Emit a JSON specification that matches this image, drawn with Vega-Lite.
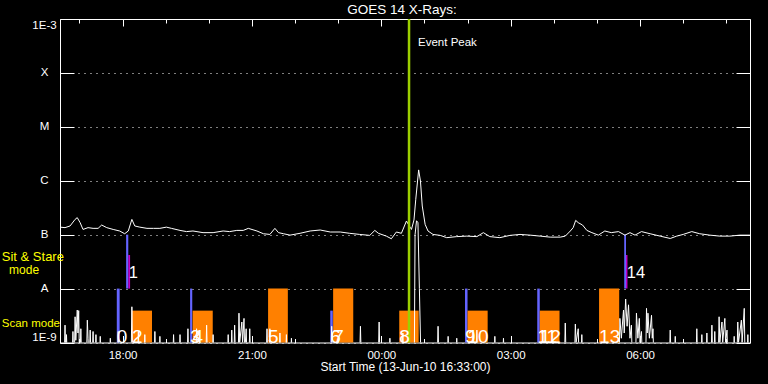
{
  "$schema": "https://vega.github.io/schema/vega-lite/v6.json",
  "width": 690,
  "height": 323.5,
  "autosize": {"type": "none"},
  "padding": {"left": 60, "top": 19, "right": 18, "bottom": 41.5},
  "background": "black",
  "config": {"view": {"stroke": "white", "strokeWidth": 1}},
  "resolve": {"axis": {"x": "independent", "y": "independent"}},
  "datasets": {
    "goes": [
      {"time": "2010-06-13T16:33", "flux": 1.38e-7}, {"time": "2010-06-13T16:40", "flux": 1.35e-7}, {"time": "2010-06-13T16:47", "flux": 1.45e-7}, {"time": "2010-06-13T16:54", "flux": 1.92e-7}, {"time": "2010-06-13T16:57", "flux": 2.07e-7}, {"time": "2010-06-13T17:01", "flux": 1.67e-7}, {"time": "2010-06-13T17:05", "flux": 1.25e-7}, {"time": "2010-06-13T17:12", "flux": 1.35e-7}, {"time": "2010-06-13T17:19", "flux": 1.31e-7}, {"time": "2010-06-13T17:26", "flux": 1.31e-7}, {"time": "2010-06-13T17:31", "flux": 1.51e-7}, {"time": "2010-06-13T17:38", "flux": 1.35e-7}, {"time": "2010-06-13T17:47", "flux": 1.25e-7}, {"time": "2010-06-13T17:56", "flux": 1.17e-7}, {"time": "2010-06-13T18:03", "flux": 1.04e-7}, {"time": "2010-06-13T18:08", "flux": 1.17e-7}, {"time": "2010-06-13T18:13", "flux": 1.92e-7}, {"time": "2010-06-13T18:17", "flux": 1.45e-7}, {"time": "2010-06-13T18:24", "flux": 1.38e-7}, {"time": "2010-06-13T18:34", "flux": 1.31e-7}, {"time": "2010-06-13T18:43", "flux": 1.31e-7}, {"time": "2010-06-13T18:52", "flux": 1.31e-7}, {"time": "2010-06-13T19:01", "flux": 1.38e-7}, {"time": "2010-06-13T19:08", "flux": 1.31e-7}, {"time": "2010-06-13T19:20", "flux": 1.2e-7}, {"time": "2010-06-13T19:29", "flux": 1.14e-7}, {"time": "2010-06-13T19:38", "flux": 1.17e-7}, {"time": "2010-06-13T19:52", "flux": 1.09e-7}, {"time": "2010-06-13T20:06", "flux": 1.09e-7}, {"time": "2010-06-13T20:20", "flux": 1.17e-7}, {"time": "2010-06-13T20:29", "flux": 1.14e-7}, {"time": "2010-06-13T20:39", "flux": 1.2e-7}, {"time": "2010-06-13T20:48", "flux": 1.2e-7}, {"time": "2010-06-13T20:55", "flux": 1.31e-7}, {"time": "2010-06-13T21:07", "flux": 1.17e-7}, {"time": "2010-06-13T21:16", "flux": 1.04e-7}, {"time": "2010-06-13T21:25", "flux": 1.01e-7}, {"time": "2010-06-13T21:32", "flux": 1.31e-7}, {"time": "2010-06-13T21:37", "flux": 1.09e-7}, {"time": "2010-06-13T21:44", "flux": 1.04e-7}, {"time": "2010-06-13T21:53", "flux": 0.98e-7}, {"time": "2010-06-13T22:07", "flux": 1.06e-7}, {"time": "2010-06-13T22:21", "flux": 1.17e-7}, {"time": "2010-06-13T22:35", "flux": 1.22e-7}, {"time": "2010-06-13T22:49", "flux": 1.12e-7}, {"time": "2010-06-13T23:03", "flux": 1.12e-7}, {"time": "2010-06-13T23:16", "flux": 1.06e-7}, {"time": "2010-06-13T23:30", "flux": 1.01e-7}, {"time": "2010-06-13T23:44", "flux": 0.97e-7}, {"time": "2010-06-13T23:51", "flux": 1.2e-7}, {"time": "2010-06-13T23:56", "flux": 1.06e-7},
      {"time": "2010-06-14T00:07", "flux": 0.94e-7}, {"time": "2010-06-14T00:14", "flux": 0.84e-7}, {"time": "2010-06-14T00:21", "flux": 1.12e-7}, {"time": "2010-06-14T00:28", "flux": 1.06e-7}, {"time": "2010-06-14T00:35", "flux": 1.79e-7}, {"time": "2010-06-14T00:39", "flux": 1.45e-7}, {"time": "2010-06-14T00:42", "flux": 1.25e-7}, {"time": "2010-06-14T00:45:30", "flux": 1.87e-7}, {"time": "2010-06-14T00:48", "flux": 4.53e-7}, {"time": "2010-06-14T00:52", "flux": 1.59e-6}, {"time": "2010-06-14T00:54:30", "flux": 9.9e-7}, {"time": "2010-06-14T00:57", "flux": 3.4e-7}, {"time": "2010-06-14T01:01", "flux": 1.55e-7}, {"time": "2010-06-14T01:05", "flux": 1.17e-7}, {"time": "2010-06-14T01:12", "flux": 1.01e-7}, {"time": "2010-06-14T01:22", "flux": 0.97e-7}, {"time": "2010-06-14T01:31", "flux": 0.88e-7}, {"time": "2010-06-14T01:45", "flux": 0.92e-7}, {"time": "2010-06-14T01:59", "flux": 0.94e-7}, {"time": "2010-06-14T02:13", "flux": 0.92e-7}, {"time": "2010-06-14T02:22", "flux": 1.09e-7}, {"time": "2010-06-14T02:31", "flux": 0.92e-7}, {"time": "2010-06-14T02:45", "flux": 0.88e-7}, {"time": "2010-06-14T02:59", "flux": 0.97e-7}, {"time": "2010-06-14T03:13", "flux": 1.01e-7}, {"time": "2010-06-14T03:27", "flux": 0.98e-7}, {"time": "2010-06-14T03:41", "flux": 0.94e-7}, {"time": "2010-06-14T03:55", "flux": 0.9e-7}, {"time": "2010-06-14T04:09", "flux": 0.9e-7}, {"time": "2010-06-14T04:16", "flux": 0.94e-7}, {"time": "2010-06-14T04:23", "flux": 1.17e-7}, {"time": "2010-06-14T04:27", "flux": 1.35e-7}, {"time": "2010-06-14T04:30:30", "flux": 1.84e-7}, {"time": "2010-06-14T04:34", "flux": 1.67e-7}, {"time": "2010-06-14T04:40", "flux": 1.51e-7}, {"time": "2010-06-14T04:46", "flux": 1.2e-7}, {"time": "2010-06-14T04:53", "flux": 1.09e-7}, {"time": "2010-06-14T05:02", "flux": 0.98e-7}, {"time": "2010-06-14T05:11", "flux": 1.17e-7}, {"time": "2010-06-14T05:20", "flux": 1.09e-7}, {"time": "2010-06-14T05:30", "flux": 1.14e-7}, {"time": "2010-06-14T05:39", "flux": 0.98e-7}, {"time": "2010-06-14T05:46", "flux": 1.09e-7}, {"time": "2010-06-14T05:53", "flux": 0.98e-7}, {"time": "2010-06-14T06:02", "flux": 1.14e-7}, {"time": "2010-06-14T06:14", "flux": 1.04e-7}, {"time": "2010-06-14T06:28", "flux": 0.94e-7}, {"time": "2010-06-14T06:42", "flux": 0.85e-7}, {"time": "2010-06-14T06:51", "flux": 0.94e-7}, {"time": "2010-06-14T07:00", "flux": 1.01e-7}, {"time": "2010-06-14T07:12", "flux": 1.14e-7}, {"time": "2010-06-14T07:23", "flux": 1.04e-7}, {"time": "2010-06-14T07:37", "flux": 0.98e-7}, {"time": "2010-06-14T07:51", "flux": 0.94e-7}, {"time": "2010-06-14T08:05", "flux": 0.94e-7}, {"time": "2010-06-14T08:19", "flux": 0.98e-7}, {"time": "2010-06-14T08:33", "flux": 0.98e-7}
    ],
    "lower": [
      {"time": "2010-06-13T16:33", "flux": 6e-10}, {"time": "2010-06-13T16:39", "flux": 6e-10}, {"time": "2010-06-13T16:40", "flux": 2.1e-9}, {"time": "2010-06-13T16:41", "flux": 6e-10}, {"time": "2010-06-13T16:42", "flux": 1.4e-9}, {"time": "2010-06-13T16:43", "flux": 6e-10}, {"time": "2010-06-13T16:50", "flux": 6e-10}, {"time": "2010-06-13T16:51", "flux": 1.6e-9}, {"time": "2010-06-13T16:52", "flux": 6e-10}, {"time": "2010-06-13T16:53", "flux": 6e-10}, {"time": "2010-06-13T16:54", "flux": 3.0e-9}, {"time": "2010-06-13T16:55", "flux": 1.1e-9}, {"time": "2010-06-13T16:57", "flux": 4.0e-9}, {"time": "2010-06-13T16:58", "flux": 1.5e-9}, {"time": "2010-06-13T16:59", "flux": 3.9e-9}, {"time": "2010-06-13T17:00", "flux": 6e-10}, {"time": "2010-06-13T17:01", "flux": 6e-10}, {"time": "2010-06-13T17:02", "flux": 1.8e-9}, {"time": "2010-06-13T17:03", "flux": 6e-10}, {"time": "2010-06-13T17:10", "flux": 6e-10}, {"time": "2010-06-13T17:11", "flux": 2.6e-9}, {"time": "2010-06-13T17:12", "flux": 1.2e-9}, {"time": "2010-06-13T17:13", "flux": 6e-10}, {"time": "2010-06-13T17:14", "flux": 6e-10}, {"time": "2010-06-13T17:15", "flux": 1.7e-9}, {"time": "2010-06-13T17:16", "flux": 6e-10}, {"time": "2010-06-13T17:18", "flux": 6e-10}, {"time": "2010-06-13T17:19", "flux": 1.6e-9}, {"time": "2010-06-13T17:20", "flux": 6e-10}, {"time": "2010-06-13T17:22", "flux": 6e-10}, {"time": "2010-06-13T17:23", "flux": 1.4e-9}, {"time": "2010-06-13T17:24", "flux": 6e-10}, {"time": "2010-06-13T17:28", "flux": 6e-10}, {"time": "2010-06-13T17:29", "flux": 1.3e-9}, {"time": "2010-06-13T17:30", "flux": 6e-10}, {"time": "2010-06-13T17:42", "flux": 6e-10}, {"time": "2010-06-13T17:43", "flux": 1.2e-9}, {"time": "2010-06-13T17:44", "flux": 6e-10}, {"time": "2010-06-13T17:53", "flux": 6e-10}, {"time": "2010-06-13T17:54", "flux": 1.6e-9}, {"time": "2010-06-13T17:55", "flux": 6e-10}, {"time": "2010-06-13T18:12", "flux": 6e-10}, {"time": "2010-06-13T18:13", "flux": 4.6e-9}, {"time": "2010-06-13T18:14", "flux": 6e-10}, {"time": "2010-06-13T18:21", "flux": 6e-10}, {"time": "2010-06-13T18:22", "flux": 1.6e-9}, {"time": "2010-06-13T18:23", "flux": 6e-10}, {"time": "2010-06-13T18:30", "flux": 6e-10}, {"time": "2010-06-13T18:31", "flux": 1.4e-9}, {"time": "2010-06-13T18:32", "flux": 6e-10}, {"time": "2010-06-13T18:44", "flux": 6e-10}, {"time": "2010-06-13T18:45", "flux": 1.6e-9}, {"time": "2010-06-13T18:46", "flux": 6e-10}, {"time": "2010-06-13T18:51", "flux": 6e-10}, {"time": "2010-06-13T18:52", "flux": 1.3e-9}, {"time": "2010-06-13T18:53", "flux": 6e-10}, {"time": "2010-06-13T19:10", "flux": 6e-10}, {"time": "2010-06-13T19:11", "flux": 1.4e-9}, {"time": "2010-06-13T19:12", "flux": 6e-10}, {"time": "2010-06-13T19:19", "flux": 6e-10}, {"time": "2010-06-13T19:20", "flux": 1.4e-9}, {"time": "2010-06-13T19:21", "flux": 6e-10}, {"time": "2010-06-13T19:30", "flux": 6e-10}, {"time": "2010-06-13T19:31", "flux": 1.8e-9}, {"time": "2010-06-13T19:32", "flux": 6e-10}, {"time": "2010-06-13T19:42", "flux": 6e-10}, {"time": "2010-06-13T19:43", "flux": 1.8e-9}, {"time": "2010-06-13T19:44", "flux": 6e-10}, {"time": "2010-06-13T19:56", "flux": 6e-10}, {"time": "2010-06-13T19:57", "flux": 2.1e-9}, {"time": "2010-06-13T19:58", "flux": 6e-10}, {"time": "2010-06-13T20:05", "flux": 6e-10}, {"time": "2010-06-13T20:06", "flux": 1.4e-9}, {"time": "2010-06-13T20:07", "flux": 6e-10}, {"time": "2010-06-13T20:26", "flux": 6e-10}, {"time": "2010-06-13T20:27", "flux": 1.4e-9}, {"time": "2010-06-13T20:28", "flux": 6e-10}, {"time": "2010-06-13T20:31", "flux": 6e-10}, {"time": "2010-06-13T20:32", "flux": 1.7e-9}, {"time": "2010-06-13T20:33", "flux": 6e-10}, {"time": "2010-06-13T20:35", "flux": 6e-10}, {"time": "2010-06-13T20:36", "flux": 2.1e-9}, {"time": "2010-06-13T20:37", "flux": 6e-10}, {"time": "2010-06-13T20:41", "flux": 6e-10}, {"time": "2010-06-13T20:42", "flux": 3.5e-9}, {"time": "2010-06-13T20:43", "flux": 1.0e-9}, {"time": "2010-06-13T20:46", "flux": 2.4e-9}, {"time": "2010-06-13T20:47", "flux": 1.0e-9}, {"time": "2010-06-13T20:49", "flux": 2.8e-9}, {"time": "2010-06-13T20:50", "flux": 6e-10}, {"time": "2010-06-13T20:52", "flux": 1.8e-9}, {"time": "2010-06-13T20:53", "flux": 6e-10}, {"time": "2010-06-13T20:56", "flux": 6e-10}, {"time": "2010-06-13T20:57", "flux": 1.8e-9}, {"time": "2010-06-13T20:58", "flux": 6e-10}, {"time": "2010-06-13T21:20", "flux": 6e-10}, {"time": "2010-06-13T21:21", "flux": 1.8e-9}, {"time": "2010-06-13T21:22", "flux": 6e-10}, {"time": "2010-06-13T21:24", "flux": 6e-10}, {"time": "2010-06-13T21:25", "flux": 1.8e-9}, {"time": "2010-06-13T21:26", "flux": 6e-10}, {"time": "2010-06-13T21:38", "flux": 6e-10}, {"time": "2010-06-13T21:39", "flux": 1.5e-9}, {"time": "2010-06-13T21:40", "flux": 6e-10}, {"time": "2010-06-13T21:47", "flux": 6e-10}, {"time": "2010-06-13T21:48", "flux": 1.4e-9}, {"time": "2010-06-13T21:49", "flux": 6e-10}, {"time": "2010-06-13T21:54", "flux": 6e-10}, {"time": "2010-06-13T21:55", "flux": 1.2e-9}, {"time": "2010-06-13T21:56", "flux": 6e-10}, {"time": "2010-06-13T22:50", "flux": 6e-10}, {"time": "2010-06-13T22:51", "flux": 2.0e-9}, {"time": "2010-06-13T22:52", "flux": 6e-10}, {"time": "2010-06-13T23:30", "flux": 6e-10}, {"time": "2010-06-13T23:31", "flux": 2.0e-9}, {"time": "2010-06-13T23:32", "flux": 6e-10}, {"time": "2010-06-13T23:56", "flux": 6e-10}, {"time": "2010-06-13T23:57", "flux": 2.4e-9}, {"time": "2010-06-13T23:58", "flux": 6e-10},
      {"time": "2010-06-14T00:11", "flux": 6e-10}, {"time": "2010-06-14T00:12", "flux": 1.2e-9}, {"time": "2010-06-14T00:13", "flux": 6e-10}, {"time": "2010-06-14T00:29", "flux": 6e-10}, {"time": "2010-06-14T00:30", "flux": 1.5e-9}, {"time": "2010-06-14T00:31", "flux": 6e-10}, {"time": "2010-06-14T00:46", "flux": 6e-10}, {"time": "2010-06-14T00:47", "flux": 1.0e-7}, {"time": "2010-06-14T00:49", "flux": 1.8e-7}, {"time": "2010-06-14T00:51", "flux": 1.7e-7}, {"time": "2010-06-14T00:53", "flux": 1.0e-8}, {"time": "2010-06-14T00:55", "flux": 6e-10}, {"time": "2010-06-14T01:18", "flux": 6e-10}, {"time": "2010-06-14T01:19", "flux": 2.0e-9}, {"time": "2010-06-14T01:20", "flux": 6e-10}, {"time": "2010-06-14T01:32", "flux": 6e-10}, {"time": "2010-06-14T01:33", "flux": 1.3e-9}, {"time": "2010-06-14T01:34", "flux": 6e-10}, {"time": "2010-06-14T01:44", "flux": 6e-10}, {"time": "2010-06-14T01:45", "flux": 1.2e-9}, {"time": "2010-06-14T01:46", "flux": 6e-10}, {"time": "2010-06-14T02:12", "flux": 6e-10}, {"time": "2010-06-14T02:13", "flux": 1.7e-9}, {"time": "2010-06-14T02:14", "flux": 6e-10}, {"time": "2010-06-14T02:37", "flux": 6e-10}, {"time": "2010-06-14T02:38", "flux": 1.3e-9}, {"time": "2010-06-14T02:39", "flux": 6e-10}, {"time": "2010-06-14T02:49", "flux": 6e-10}, {"time": "2010-06-14T02:50", "flux": 1.2e-9}, {"time": "2010-06-14T02:51", "flux": 6e-10}, {"time": "2010-06-14T04:15", "flux": 6e-10}, {"time": "2010-06-14T04:16", "flux": 2.3e-9}, {"time": "2010-06-14T04:17", "flux": 6e-10}, {"time": "2010-06-14T04:29", "flux": 6e-10}, {"time": "2010-06-14T04:30", "flux": 2.2e-9}, {"time": "2010-06-14T04:31", "flux": 1.0e-9}, {"time": "2010-06-14T04:34", "flux": 1.8e-9}, {"time": "2010-06-14T04:35", "flux": 6e-10}, {"time": "2010-06-14T04:38", "flux": 6e-10}, {"time": "2010-06-14T04:39", "flux": 1.4e-9}, {"time": "2010-06-14T04:40", "flux": 6e-10}, {"time": "2010-06-14T05:31", "flux": 6e-10}, {"time": "2010-06-14T05:32", "flux": 2.8e-9}, {"time": "2010-06-14T05:34", "flux": 1.2e-9}, {"time": "2010-06-14T05:37", "flux": 4.0e-9}, {"time": "2010-06-14T05:38", "flux": 1.5e-9}, {"time": "2010-06-14T05:40", "flux": 6.4e-9}, {"time": "2010-06-14T05:42", "flux": 2.0e-9}, {"time": "2010-06-14T05:44", "flux": 5.0e-9}, {"time": "2010-06-14T05:46", "flux": 1.2e-9}, {"time": "2010-06-14T05:48", "flux": 2.1e-9}, {"time": "2010-06-14T05:49", "flux": 6e-10}, {"time": "2010-06-14T05:54", "flux": 6e-10}, {"time": "2010-06-14T05:55", "flux": 3.5e-9}, {"time": "2010-06-14T05:57", "flux": 1.2e-9}, {"time": "2010-06-14T05:59", "flux": 2.8e-9}, {"time": "2010-06-14T06:00", "flux": 1.0e-9}, {"time": "2010-06-14T06:02", "flux": 1.6e-9}, {"time": "2010-06-14T06:03", "flux": 6e-10}, {"time": "2010-06-14T06:08", "flux": 6e-10}, {"time": "2010-06-14T06:09", "flux": 4.3e-9}, {"time": "2010-06-14T06:10", "flux": 1.5e-9}, {"time": "2010-06-14T06:11", "flux": 3.5e-9}, {"time": "2010-06-14T06:13", "flux": 1.2e-9}, {"time": "2010-06-14T06:16", "flux": 3.2e-9}, {"time": "2010-06-14T06:17", "flux": 1.2e-9}, {"time": "2010-06-14T06:18", "flux": 1.8e-9}, {"time": "2010-06-14T06:19", "flux": 6e-10}, {"time": "2010-06-14T06:41", "flux": 6e-10}, {"time": "2010-06-14T06:42", "flux": 1.7e-9}, {"time": "2010-06-14T06:43", "flux": 6e-10}, {"time": "2010-06-14T06:48", "flux": 6e-10}, {"time": "2010-06-14T06:49", "flux": 1.3e-9}, {"time": "2010-06-14T06:50", "flux": 6e-10}, {"time": "2010-06-14T07:18", "flux": 6e-10}, {"time": "2010-06-14T07:19", "flux": 1.8e-9}, {"time": "2010-06-14T07:20", "flux": 6e-10}, {"time": "2010-06-14T07:25", "flux": 6e-10}, {"time": "2010-06-14T07:26", "flux": 1.4e-9}, {"time": "2010-06-14T07:27", "flux": 6e-10}, {"time": "2010-06-14T07:32", "flux": 6e-10}, {"time": "2010-06-14T07:33", "flux": 1.5e-9}, {"time": "2010-06-14T07:34", "flux": 6e-10}, {"time": "2010-06-14T07:39", "flux": 6e-10}, {"time": "2010-06-14T07:40", "flux": 2.1e-9}, {"time": "2010-06-14T07:41", "flux": 6e-10}, {"time": "2010-06-14T07:43", "flux": 6e-10}, {"time": "2010-06-14T07:44", "flux": 1.6e-9}, {"time": "2010-06-14T07:45", "flux": 6e-10}, {"time": "2010-06-14T07:49", "flux": 6e-10}, {"time": "2010-06-14T07:50", "flux": 3.0e-9}, {"time": "2010-06-14T07:51", "flux": 1.0e-9}, {"time": "2010-06-14T07:54", "flux": 2.4e-9}, {"time": "2010-06-14T07:55", "flux": 1.0e-9}, {"time": "2010-06-14T07:58", "flux": 2.8e-9}, {"time": "2010-06-14T07:59", "flux": 1.0e-9}, {"time": "2010-06-14T08:01", "flux": 1.7e-9}, {"time": "2010-06-14T08:02", "flux": 6e-10}, {"time": "2010-06-14T08:10", "flux": 6e-10}, {"time": "2010-06-14T08:11", "flux": 1.3e-9}, {"time": "2010-06-14T08:12", "flux": 6e-10}, {"time": "2010-06-14T08:15", "flux": 6e-10}, {"time": "2010-06-14T08:16", "flux": 2.4e-9}, {"time": "2010-06-14T08:17", "flux": 1.0e-9}, {"time": "2010-06-14T08:21", "flux": 2.6e-9}, {"time": "2010-06-14T08:22", "flux": 1.0e-9}, {"time": "2010-06-14T08:25", "flux": 4.3e-9}, {"time": "2010-06-14T08:26", "flux": 6e-10}, {"time": "2010-06-14T08:29", "flux": 6e-10}, {"time": "2010-06-14T08:30", "flux": 1.4e-9}, {"time": "2010-06-14T08:31", "flux": 6e-10}, {"time": "2010-06-14T08:33", "flux": 6e-10}
    ],
    "segments": [
      {"id": 0, "part": "pointing", "start": "2010-06-13T17:52", "end": "2010-06-13T17:56", "lo": 1e-9, "hi": 1e-8},
      {"id": 1, "part": "pointing", "start": "2010-06-13T18:05", "end": "2010-06-13T18:08", "lo": 1e-8, "hi": 1e-7},
      {"id": 1, "part": "exposure", "start": "2010-06-13T18:08", "end": "2010-06-13T18:10:30", "lo": 1e-8, "hi": 4.2e-8},
      {"id": 2, "part": "raster", "start": "2010-06-13T18:13", "end": "2010-06-13T18:41", "lo": 1e-9, "hi": 3.9e-9},
      {"id": 3, "part": "pointing", "start": "2010-06-13T19:34", "end": "2010-06-13T19:37", "lo": 1e-9, "hi": 1e-8},
      {"id": 4, "part": "raster", "start": "2010-06-13T19:37:30", "end": "2010-06-13T20:05:30", "lo": 1e-9, "hi": 3.9e-9},
      {"id": 5, "part": "raster", "start": "2010-06-13T21:22:30", "end": "2010-06-13T21:50", "lo": 1e-9, "hi": 1e-8},
      {"id": 6, "part": "pointing", "start": "2010-06-13T22:49", "end": "2010-06-13T22:52:30", "lo": 1e-9, "hi": 3.9e-9},
      {"id": 7, "part": "raster", "start": "2010-06-13T22:53", "end": "2010-06-13T23:21", "lo": 1e-9, "hi": 1e-8},
      {"id": 8, "part": "raster", "start": "2010-06-14T00:25", "end": "2010-06-14T00:52", "lo": 1e-9, "hi": 3.9e-9},
      {"id": 9, "part": "pointing", "start": "2010-06-14T01:56:30", "end": "2010-06-14T02:00", "lo": 1e-9, "hi": 1e-8},
      {"id": 10, "part": "raster", "start": "2010-06-14T02:00", "end": "2010-06-14T02:28", "lo": 1e-9, "hi": 3.9e-9},
      {"id": 11, "part": "pointing", "start": "2010-06-14T03:37", "end": "2010-06-14T03:40:30", "lo": 1e-9, "hi": 1e-8},
      {"id": 12, "part": "raster", "start": "2010-06-14T03:40:30", "end": "2010-06-14T04:08", "lo": 1e-9, "hi": 3.9e-9},
      {"id": 13, "part": "raster", "start": "2010-06-14T05:03", "end": "2010-06-14T05:31", "lo": 1e-9, "hi": 1e-8},
      {"id": 14, "part": "pointing", "start": "2010-06-14T05:38", "end": "2010-06-14T05:40:30", "lo": 1e-8, "hi": 1e-7},
      {"id": 14, "part": "exposure", "start": "2010-06-14T05:40:30", "end": "2010-06-14T05:42:30", "lo": 1e-8, "hi": 4.2e-8}
    ],
    "observations": [
      {"id": 0, "mode": "scan", "start": "2010-06-13T17:52"},
      {"id": 1, "mode": "sit", "start": "2010-06-13T18:05"},
      {"id": 2, "mode": "scan", "start": "2010-06-13T18:13"},
      {"id": 3, "mode": "scan", "start": "2010-06-13T19:34"},
      {"id": 4, "mode": "scan", "start": "2010-06-13T19:37:30"},
      {"id": 5, "mode": "scan", "start": "2010-06-13T21:22:30"},
      {"id": 6, "mode": "scan", "start": "2010-06-13T22:49"},
      {"id": 7, "mode": "scan", "start": "2010-06-13T22:53"},
      {"id": 8, "mode": "scan", "start": "2010-06-14T00:25"},
      {"id": 9, "mode": "scan", "start": "2010-06-14T01:56:30"},
      {"id": 10, "mode": "scan", "start": "2010-06-14T02:00"},
      {"id": 11, "mode": "scan", "start": "2010-06-14T03:37"},
      {"id": 12, "mode": "scan", "start": "2010-06-14T03:40:30"},
      {"id": 13, "mode": "scan", "start": "2010-06-14T05:03"},
      {"id": 14, "mode": "sit", "start": "2010-06-14T05:38"}
    ]
  },
  "layer": [
    {
      "data": {"name": "segments"},
      "mark": {"type": "rect"},
      "encoding": {
        "x": {"field": "start", "type": "temporal",
          "scale": {"domain": [{"year": 2010, "month": 6, "date": 13, "hours": 16, "minutes": 33}, {"year": 2010, "month": 6, "date": 14, "hours": 8, "minutes": 33}], "nice": false},
          "axis": {"orient": "bottom", "values": [{"year": 2010, "month": 6, "date": 13, "hours": 18}, {"year": 2010, "month": 6, "date": 13, "hours": 21}, {"year": 2010, "month": 6, "date": 14, "hours": 0}, {"year": 2010, "month": 6, "date": 14, "hours": 3}, {"year": 2010, "month": 6, "date": 14, "hours": 6}],
            "format": "%H:%M", "tickSize": -7, "tickColor": "white", "tickWidth": 1, "labelColor": "white", "labelFont": "Liberation Sans", "labelFontSize": 11.5, "labelPadding": 13.5, "labelOverlap": false, "labelFlush": false, "domain": false, "grid": false,
            "title": "Start Time (13-Jun-10 16:33:00)", "titleColor": "white", "titleFont": "Liberation Sans", "titleFontSize": 12, "titleFontWeight": "normal", "titlePadding": 1}},
        "x2": {"field": "end"},
        "y": {"field": "lo", "type": "quantitative",
          "scale": {"type": "log", "domain": [1e-9, 1e-3], "nice": false},
          "axis": {"orient": "left", "values": [1e-9, 1e-8, 1e-7, 1e-6, 1e-5, 1e-4, 1e-3],
            "labelExpr": "['1E-9','A','B','C','M','X','1E-3'][round(log(datum.value)/LN10)+9]",
            "tickSize": -14, "tickColor": "white", "tickWidth": 1, "labelColor": "white", "labelFont": "Liberation Sans", "labelFontSize": 11.5, "labelAlign": "center", "labelPadding": 30, "labelFlush": true, "labelOverlap": false,
            "domain": false, "grid": true, "gridColor": "white", "gridDash": [1, 5], "gridOpacity": 1, "gridWidth": 1, "title": null}},
        "y2": {"field": "hi"},
        "color": {"field": "part", "type": "nominal", "scale": {"domain": ["pointing", "raster", "exposure"], "range": ["#6464ff", "#ff8000", "#c400c8"]}, "legend": null}
      }
    },
    {
      "data": {"name": "goes"},
      "mark": {"type": "line", "color": "white", "strokeWidth": 1, "clip": true},
      "encoding": {
        "x": {"field": "time", "type": "temporal",
          "axis": {"orient": "top", "values": [{"year": 2010, "month": 6, "date": 13, "hours": 18}, {"year": 2010, "month": 6, "date": 13, "hours": 21}, {"year": 2010, "month": 6, "date": 14, "hours": 0}, {"year": 2010, "month": 6, "date": 14, "hours": 3}, {"year": 2010, "month": 6, "date": 14, "hours": 6}],
            "tickSize": -7, "tickColor": "white", "tickWidth": 1, "labels": false, "domain": false, "grid": false, "title": null}},
        "y": {"field": "flux", "type": "quantitative",
          "axis": {"orient": "right", "values": [1e-9, 1e-8, 1e-7, 1e-6, 1e-5, 1e-4, 1e-3], "tickSize": -14, "tickColor": "white", "tickWidth": 1, "labels": false, "domain": false, "grid": false, "title": null}}
      }
    },
    {
      "data": {"name": "lower"},
      "mark": {"type": "line", "color": "white", "strokeWidth": 1, "clip": true},
      "encoding": {
        "x": {"field": "time", "type": "temporal",
          "axis": {"orient": "bottom", "values": [{"year": 2010, "month": 6, "date": 13, "hours": 17}, {"year": 2010, "month": 6, "date": 13, "hours": 19}, {"year": 2010, "month": 6, "date": 13, "hours": 20}, {"year": 2010, "month": 6, "date": 13, "hours": 22}, {"year": 2010, "month": 6, "date": 13, "hours": 23}, {"year": 2010, "month": 6, "date": 14, "hours": 1}, {"year": 2010, "month": 6, "date": 14, "hours": 2}, {"year": 2010, "month": 6, "date": 14, "hours": 4}, {"year": 2010, "month": 6, "date": 14, "hours": 5}, {"year": 2010, "month": 6, "date": 14, "hours": 7}, {"year": 2010, "month": 6, "date": 14, "hours": 8}],
            "tickSize": -4, "tickColor": "white", "tickWidth": 1, "labels": false, "domain": false, "grid": false, "title": null}},
        "y": {"field": "flux", "type": "quantitative", "axis": null}
      }
    },
    {
      "data": {"values": [{}]},
      "mark": {"type": "rule", "color": "#9ccf00", "strokeWidth": 2.5},
      "encoding": {
        "x": {"datum": {"year": 2010, "month": 6, "date": 14, "hours": 0, "minutes": 38, "seconds": 36}, "type": "temporal", "axis": null}
      }
    },
    {
      "data": {"name": "observations"},
      "transform": [{"filter": "datum.mode === 'scan'"}],
      "mark": {"type": "text", "color": "white", "font": "Liberation Sans", "fontSize": 19, "align": "left", "baseline": "alphabetic", "dx": 0},
      "encoding": {
        "x": {"field": "start", "type": "temporal",
          "axis": {"orient": "top", "values": [{"year": 2010, "month": 6, "date": 13, "hours": 17}, {"year": 2010, "month": 6, "date": 13, "hours": 19}, {"year": 2010, "month": 6, "date": 13, "hours": 20}, {"year": 2010, "month": 6, "date": 13, "hours": 22}, {"year": 2010, "month": 6, "date": 13, "hours": 23}, {"year": 2010, "month": 6, "date": 14, "hours": 1}, {"year": 2010, "month": 6, "date": 14, "hours": 2}, {"year": 2010, "month": 6, "date": 14, "hours": 4}, {"year": 2010, "month": 6, "date": 14, "hours": 5}, {"year": 2010, "month": 6, "date": 14, "hours": 7}, {"year": 2010, "month": 6, "date": 14, "hours": 8}],
            "tickSize": -4, "tickColor": "white", "tickWidth": 1, "labels": false, "domain": false, "grid": false, "title": null}},
        "y": {"datum": 1e-9, "type": "quantitative", "axis": null},
        "text": {"field": "id", "type": "nominal"}
      }
    },
    {
      "data": {"name": "observations"},
      "transform": [{"filter": "datum.mode === 'sit'"}],
      "mark": {"type": "text", "color": "white", "font": "Liberation Sans", "fontSize": 16.5, "align": "left", "baseline": "alphabetic", "dx": 2.5},
      "encoding": {
        "x": {"field": "start", "type": "temporal", "axis": null},
        "y": {"datum": 1.56e-8, "type": "quantitative", "axis": null},
        "text": {"field": "id", "type": "nominal"}
      }
    },
    {
      "data": {"values": [{}]},
      "mark": {"type": "text", "text": "Event Peak", "color": "white", "font": "Liberation Sans", "fontSize": 11.5, "align": "left", "baseline": "middle", "dx": 9},
      "encoding": {
        "x": {"datum": {"year": 2010, "month": 6, "date": 14, "hours": 0, "minutes": 38, "seconds": 36}, "type": "temporal", "axis": null},
        "y": {"datum": 3.66e-4, "type": "quantitative", "axis": null}
      }
    },
    {
      "data": {"values": [{}]},
      "mark": {"type": "text", "text": "GOES 14 X-Rays:", "color": "white", "font": "Liberation Sans", "fontSize": 13.5, "align": "center", "baseline": "middle"},
      "encoding": {
        "x": {"datum": {"year": 2010, "month": 6, "date": 14, "hours": 0, "minutes": 28, "seconds": 48}, "type": "temporal", "axis": null},
        "y": {"datum": 1.5e-3, "type": "quantitative", "axis": null}
      }
    },
    {
      "data": {"values": [{}]},
      "mark": {"type": "text", "text": "Sit & Stare", "color": "#ffff00", "font": "Liberation Sans", "fontSize": 13, "align": "left", "baseline": "middle"},
      "encoding": {
        "x": {"datum": {"year": 2010, "month": 6, "date": 13, "hours": 15, "minutes": 12}, "type": "temporal", "axis": null},
        "y": {"datum": 3.79e-8, "type": "quantitative", "axis": null}
      }
    },
    {
      "data": {"values": [{}]},
      "mark": {"type": "text", "text": "mode", "color": "#ffff00", "font": "Liberation Sans", "fontSize": 12, "align": "center", "baseline": "middle"},
      "encoding": {
        "x": {"datum": {"year": 2010, "month": 6, "date": 13, "hours": 15, "minutes": 43}, "type": "temporal", "axis": null},
        "y": {"datum": 2.17e-8, "type": "quantitative", "axis": null}
      }
    },
    {
      "data": {"values": [{}]},
      "mark": {"type": "text", "text": "Scan mode", "color": "#ffff00", "font": "Liberation Sans", "fontSize": 11.5, "align": "left", "baseline": "middle"},
      "encoding": {
        "x": {"datum": {"year": 2010, "month": 6, "date": 13, "hours": 15, "minutes": 12}, "type": "temporal", "axis": null},
        "y": {"datum": 2.25e-9, "type": "quantitative", "axis": null}
      }
    }
  ]
}
